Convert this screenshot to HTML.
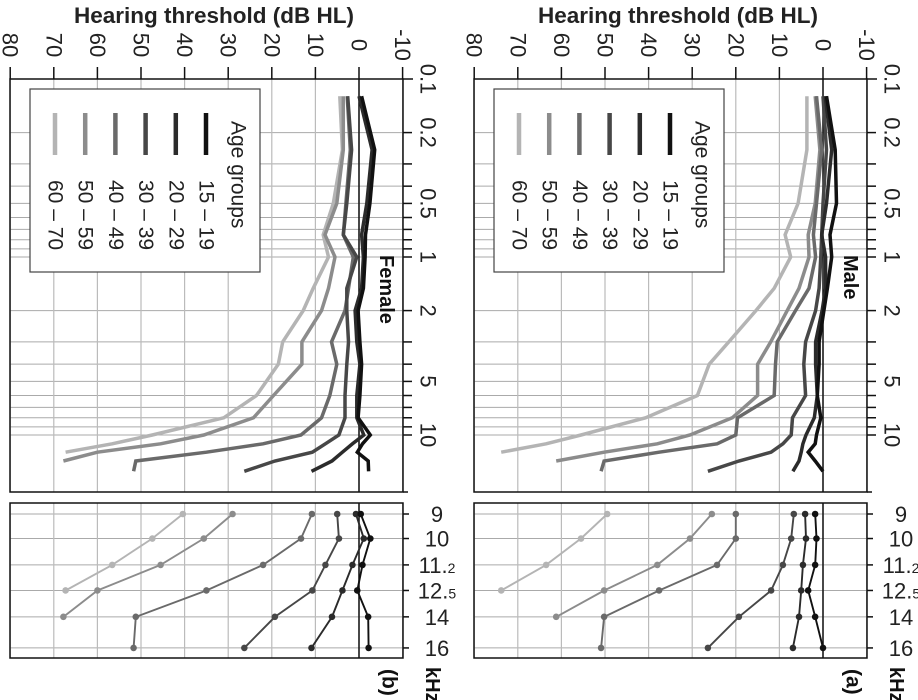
<!DOCTYPE html>
<html><head><meta charset="utf-8"><style>
html,body{margin:0;padding:0;background:#fff;}
svg{display:block;font-family:"Liberation Sans",sans-serif;}
</style></head><body>
<svg id="chart" width="918" height="700" viewBox="0 0 918 700" xmlns="http://www.w3.org/2000/svg"></svg>
<script>
// ---- data ----
const ageGroups = ["15 \u2013 19","20 \u2013 29","30 \u2013 39","40 \u2013 49","50 \u2013 59","60 \u2013 70"];
const groupColors = ["#111","#2b2b2b","#474747","#6a6a6a","#8c8c8c","#b4b4b4"];
const freqsStd = [0.125,0.25,0.5,0.75,1,1.5,2,3,4,6,8];
const freqsExt = [9,10,11.2,12.5,14,16];
const dbTicks = [80,70,60,50,40,30,20,10,0,-10];
const freqTickLabels = ["0.1","0.2","0.5","1","2","5","10"];
const freqTickValues = [0.1,0.2,0.5,1,2,5,10];
const extTickLabels = ["9","10","11.","12.","14","16"];
const extTickSmall = ["","",  "2","5","",""];
// female standard frequencies
const femaleStd = [
 [-0.6,-3.6,-2.5,-1.5,-1.4,-1,0.2,-0.2,-0.6,-0.2,0.2],
 [0,-3,-1.8,-0.6,-1,-0.6,0.9,0.5,-0.2,0.5,0.5],
 [2.6,1.7,2.8,3.6,0.5,2.8,2.8,2.4,2.8,3.2,3.2],
 [2.7,2,3,3.6,1.3,2.4,3.2,6.3,5.1,6.7,8.6],
 [3.6,3.6,5.1,7.8,5.5,7,8.6,13.1,13.1,19.6,24.2],
 [4.4,3.8,5.9,8.2,7,10.5,12.8,17.5,18.5,23.5,31]
];
const femaleExt = [
 [-0.4,-2.6,-0.8,0.4,-2.1,-2.2],
 [0.7,-1.1,1.5,3.8,6.2,10.9],
 [5,4.6,7.7,10.7,19.3,26.3],
 [10.8,13.3,22,35,51.2,51.7],
 [29,35.6,45.5,60,67.8,null],
 [40.4,47.4,56.6,67.3,null,null]
];
const maleStd = [
 [-0.8,-2.8,-3.1,-1.6,-2,-1,-0.2,0.9,0.9,1.3,0.5],
 [-0.5,-2,-0.8,0.3,-0.6,-0.6,0.2,1.7,1.7,1.3,2],
 [0,-0.8,0,0.3,0.5,0.9,1.7,4,4.4,4,7],
 [1.5,0.3,1.5,2.2,1.7,3.2,6.3,10.5,10.9,11.2,19.6],
 [1.8,0.7,1.8,3.4,3.2,5.5,8.2,12,15,15,20.8],
 [3.7,3.7,5.7,8.7,7.4,11.2,15.4,21.6,26.1,28.8,40.7]
];
const maleExt = [
 [1.8,1.5,1.8,3.4,1.8,0],
 [4.1,3.9,4.6,5,5.5,6.9],
 [6.7,7.3,9.2,11.9,19.3,26.4],
 [20,20,24.3,37.6,50.2,50.9],
 [25.5,30.5,38,50.2,61.2,null],
 [49.5,55.5,63.5,73.8,null,null]
];

const NS="http://www.w3.org/2000/svg";
const svg=document.getElementById('chart');
function el(tag,attrs,parent){const e=document.createElementNS(NS,tag);for(const k in attrs)e.setAttribute(k,attrs[k]);(parent||svg).appendChild(e);return e;}

const PX_PER_DB=4.36;
const Y01=79, DEC=178;
function fy(f){return Y01+DEC*Math.log10(f/0.1);}
const LY9=514, LDEC=536;
function fyL(f){return LY9+LDEC*Math.log10(f/9);}

function drawPanel(off,std,ext,title,letter){
  const x0=359+off;
  const dx=db=>x0-db*PX_PER_DB;
  const L=10+off,R=403+off;
  const g=el('g',{});
  
  
  const t=el('text',{x:214+off,y:23,'text-anchor':'middle','font-size':'22.5','font-weight':'bold',fill:'#222'},g);
  t.textContent='Hearing threshold (dB HL)';
  
  
  const gridF=[0.2,0.3,0.4,0.5,0.6,0.7,0.8,0.9,1,2,3,4,5,6,7,8,9,10];
  gridF.forEach(f=>{
    el('line',{x1:L,x2:R,y1:fy(f),y2:fy(f),stroke:'#aaa','stroke-width':1},g);
    el('line',{x1:R,x2:R+9,y1:fy(f),y2:fy(f),stroke:'#111','stroke-width':1.5},g);
  });
  dbTicks.forEach(d=>{
    el('line',{x1:dx(d),x2:dx(d),y1:Y01,y2:492,stroke:'#bbb','stroke-width':1.2},g);
    el('line',{x1:dx(d),x2:dx(d),y1:67,y2:Y01,stroke:'#111','stroke-width':1.5},g);
    const tl=el('text',{x:dx(d),y:45,'font-size':'22',fill:'#222','text-anchor':'middle','dominant-baseline':'central',transform:`rotate(90 ${dx(d)} 45)`},g);
    tl.textContent=String(d);
    
    
  });
  freqTickValues.forEach((f,i)=>{
    const y=fy(f);
    const tl=el('text',{x:428+off,y:y,'font-size':'22',fill:'#222','text-anchor':'middle','dominant-baseline':'central',transform:`rotate(90 ${428+off} ${y})`},g);
    tl.textContent=freqTickLabels[i];
    
    
  });
  el('rect',{x:L,y:Y01,width:R-L,height:492-Y01,fill:'none',stroke:'#111','stroke-width':1.5},g);
  el('line',{x1:R,x2:R+10,y1:Y01,y2:Y01,stroke:'#111','stroke-width':1.5},g);
  el('line',{x1:R,x2:R+5,y1:492,y2:492,stroke:'#111','stroke-width':1.5},g);
  el('line',{x1:x0,x2:x0,y1:Y01,y2:492,stroke:'#111','stroke-width':1.5},g);
  const lg=el('g',{},g);
  
  
  el('rect',{x:30+off,y:89,width:230,height:183,fill:'#fff',stroke:'#444','stroke-width':1.2},lg);
  const at=el('text',{x:238+off,y:121,'font-size':'21',fill:'#222','dominant-baseline':'central',transform:`rotate(90 ${238+off} 121)`},lg);
  at.textContent='Age groups';
  
  
  ageGroups.forEach((a,i)=>{
    const lx=206+off-i*30.2;
    const ln=el('line',{x1:lx,x2:lx,y1:113,y2:155,stroke:groupColors[i],'stroke-width':4.5},lg);
    
    
    const lt=el('text',{x:lx,y:180,'font-size':'21',fill:'#222','dominant-baseline':'central',transform:`rotate(90 ${lx} 180)`},lg);
    lt.textContent=a;
    
    
  });
  for(let i=ageGroups.length-1;i>=0;i--){
    const pts=[];
    freqsStd.forEach((f,j)=>{if(std[i][j]!=null)pts.push(dx(std[i][j]).toFixed(1)+','+fy(f).toFixed(1));});
    freqsExt.forEach((f,j)=>{if(j>0&&ext[i][j]!=null)pts.push(dx(ext[i][j]).toFixed(1)+','+fy(f).toFixed(1));});
    const p=el('polyline',{points:pts.join(' '),fill:'none',stroke:groupColors[i],'stroke-width':3.5,'stroke-linejoin':'miter'},g);
    
    
  }
  const st=el('text',{x:386+off,y:255,'font-size':'20','font-weight':'bold',fill:'#111','dominant-baseline':'central',transform:`rotate(90 ${386+off} 255)`},g);
  st.textContent=title;
  
  
  const LT=503,LB=658;
  freqsExt.forEach((f,j)=>{
    el('line',{x1:L,x2:R,y1:fyL(f),y2:fyL(f),stroke:'#aaa','stroke-width':1},g);
    el('line',{x1:R,x2:R+6,y1:fyL(f),y2:fyL(f),stroke:'#111','stroke-width':1.5},g);
    const tl=el('text',{x:437+off,y:fyL(f)+8,'font-size':'22',fill:'#222','text-anchor':'middle'},g);
    tl.textContent=extTickLabels[j];
    if(extTickSmall[j]){const ts=el('tspan',{'font-size':'14'},tl);ts.textContent=extTickSmall[j];}
    
    
  });
  dbTicks.forEach(d=>el('line',{x1:dx(d),x2:dx(d),y1:LT,y2:LB,stroke:'#bbb','stroke-width':1.2},g));
  el('rect',{x:L,y:LT,width:R-L,height:LB-LT,fill:'none',stroke:'#111','stroke-width':1.5},g);
  el('line',{x1:x0,x2:x0,y1:LT,y2:LB,stroke:'#111','stroke-width':1.5},g);
  for(let i=ageGroups.length-1;i>=0;i--){
    const pts=[];
    freqsExt.forEach((f,j)=>{if(ext[i][j]!=null){
      pts.push(dx(ext[i][j]).toFixed(1)+','+fyL(f).toFixed(1));
      const c=el('circle',{cx:dx(ext[i][j]),cy:fyL(f),r:3.3,fill:groupColors[i]},g);
      
      
    }});
    const p=el('polyline',{points:pts.join(' '),fill:'none',stroke:groupColors[i],'stroke-width':1.9},g);
    
    
  }
  const kh=el('text',{x:432+off,y:667,'font-size':'20','font-weight':'bold',fill:'#111','dominant-baseline':'central',transform:`rotate(90 ${432+off} 667)`},g);
  kh.textContent='kHz';
  
  
  const lt=el('text',{x:389+off,y:669,'font-size':'21','font-weight':'bold',fill:'#111','dominant-baseline':'central',transform:`rotate(90 ${389+off} 669)`},g);
  lt.textContent=letter;
  
  
}
drawPanel(0,femaleStd,femaleExt,'Female','(b)');
drawPanel(464,maleStd,maleExt,'Male','(a)');
</script>
</body></html>
